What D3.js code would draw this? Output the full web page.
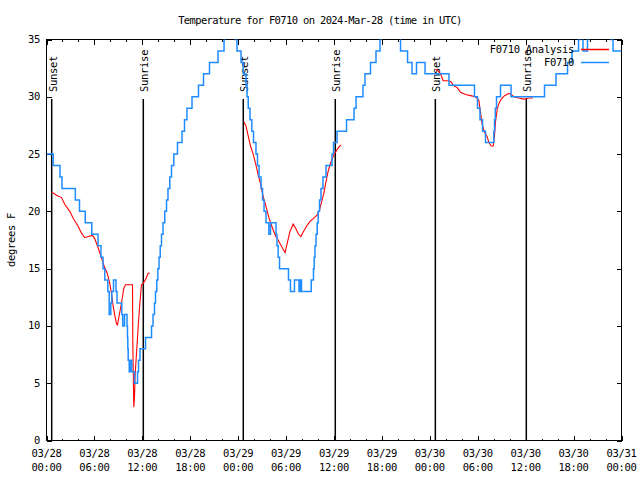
<!DOCTYPE html>
<html><head><meta charset="utf-8">
<script src="https://cdn.jsdelivr.net/npm/d3@7/dist/d3.min.js"></script>
<style>
body{margin:0;background:#fff}
svg{display:block}
text{font-family:"DejaVu Sans Mono",monospace;font-size:10.5px;letter-spacing:-0.3px;fill:#000}
</style>
</head><body>
<svg id="c" width="640" height="480"></svg>
<script>
// ---- data (hours since 03/28 00:00 UTC, degrees F) ----
const blueHours=[0,0.84,1.69,1.94,3.61,4.13,4.85,5.67,6.45,6.82,7.08,7.30,7.68,7.85,8.05,8.18,8.39,8.70,8.83,9.43,9.55,9.77,10.08,10.14,10.18,10.23,10.36,10.48,10.68,11.02,11.40,11.52,11.71,12.40,13.15,13.34,13.52,13.65,13.81,13.94,14.09,14.24,14.40,14.59,14.81,15.03,15.21,15.44,15.65,15.94,16.40,16.97,17.28,17.59,18.22,19.03,19.66,20.41,21.48,22.23,22.35,23.60,23.85,24.36,24.63,24.98,25.11,25.26,25.48,25.71,25.92,26.23,26.42,26.61,26.86,27.05,27.24,27.49,27.84,28.05,28.74,28.86,29.01,29.18,30.30,30.55,31.05,31.62,31.77,31.93,33.15,33.43,33.52,33.62,33.75,33.90,34.02,34.19,34.37,34.62,35.00,35.75,35.94,36.38,37.57,38.51,38.76,39.63,39.88,40.57,41.26,41.76,41.95,44.33,45.21,45.77,46.33,47.40,50.40,53.59,53.97,54.28,54.60,54.97,56.01,56.10,56.20,56.35,56.85,58.17,62.36,63.80,65.24,65.80,66.62,66.87,67.18,67.74,67.93,70.62,70.94,72.0];
const blueTemps=[25,24,23,22,21,20,19,18,17,16,15,14,13,11,12,13,14,13,12,11,10,11,10,9,8,7,6,7,6,5,6,7,8,9,10,11,12,13,14,15,16,17,18,19,20,21,22,23,24,25,26,27,28,29,30,31,32,33,34,35,36,35,34,33,32,31,30,29,28,27,26,25,24,23,22,21,20,19,18,19,18,17,16,15,14,13,14,13,14,13,14,15,16,17,18,19,20,21,22,23,24,25,26,27,28,29,30,31,32,33,34,35,36,34,33,32,33,32,31,30,29,28,27,26,27,28,29,30,31,30,31,32,33,34,35,36,34,35,36,35,34,34];

const redHours=[0.63,1.25,1.88,2.30,2.92,3.34,3.96,4.38,4.80,5.22,5.76,6.05,6.47,6.76,7.18,7.60,7.93,8.14,8.35,8.56,8.76,8.89,9.10,9.39,9.68,9.89,10.77,10.81,10.93,11.02,11.10,11.27,11.48,11.69,11.89,12.10,12.44,12.73,12.94,
  null,
  24.71,24.96,25.25,25.54,25.88,26.21,26.50,26.80,27.13,27.46,27.75,28.05,28.38,28.71,29.00,29.30,29.63,29.88,30.14,30.47,30.88,31.22,31.56,31.85,32.14,32.56,32.97,33.60,33.90,34.15,34.44,34.73,34.97,35.27,35.56,35.90,36.30,36.60,36.90,
  null,
  48.71,49.00,49.34,49.67,49.96,50.38,50.68,50.93,51.43,51.84,52.47,53.09,53.72,54.13,54.35,54.56,54.85,55.19,55.39,55.69,55.94,56.10,56.22,56.44,56.64,56.94,57.35,57.89,58.19,58.52,59.14,59.77,60.40,60.90];
const redTemps=[21.7,21.4,21.2,20.6,20.0,19.4,18.7,18.1,17.7,17.8,17.9,17.6,16.8,16.2,15.3,14.6,13.7,12.8,11.7,10.9,10.2,10.1,10.9,12.0,13.3,13.6,13.6,8.5,2.9,3.8,5.8,7.6,9.9,12.0,13.6,13.7,14.1,14.6,14.6,
  null,
  27.8,27.5,26.6,25.7,25.0,24.1,23.2,22.4,21.3,20.5,19.7,19.0,18.4,17.8,17.5,17.1,16.7,16.4,17.2,18.2,18.9,18.5,18.0,17.8,18.2,18.7,19.1,19.5,19.7,20.0,20.8,21.6,22.5,23.5,24.2,24.8,25.3,25.6,25.8,
  null,
  32.4,32.3,32.0,31.4,31.4,31.4,31.3,31.0,30.8,30.4,30.2,30.1,30.0,29.7,28.6,27.6,26.9,26.5,26.0,25.7,25.7,26.6,27.8,28.9,29.4,29.8,30.1,30.3,30.2,30.0,29.9,29.8,29.9,29.9];

const sunHours=[0.65,12.12,24.64,36.16,48.69,60.08];
const sunLabels=["Sunset","Sunrise","Sunset","Sunrise","Sunset","Sunrise"];

const xMajorHours=[0,6,12,18,24,30,36,42,48,54,60,66,72];
const xDateLabels=["03/28","03/28","03/28","03/28","03/29","03/29","03/29","03/29","03/30","03/30","03/30","03/30","03/31"];
const xTimeLabels=["00:00","06:00","12:00","18:00","00:00","06:00","12:00","18:00","00:00","06:00","12:00","18:00","00:00"];
const yTickValues=[0,5,10,15,20,25,30,35];

const titleText="Temperature for F0710 on 2024-Mar-28 (time in UTC)";
const yLabelText="degrees F";
const seriesNames=["F0710 Analysis","F0710"];
const seriesColors=["#ff0000","#1e8cff"];

// ---- drawing ----
const svg=d3.select("#c");
const L=46.5,R=621.5,T=39.5,B=440.5;
const x=d3.scaleLinear().domain([0,72]).range([L,R]);
const y=d3.scaleLinear().domain([0,35]).range([B,T]);

svg.append("defs").append("clipPath").attr("id","clip")
  .append("rect").attr("x",L).attr("y",T).attr("width",R-L).attr("height",B-T);

// title & y label
svg.append("text").attr("x",320).attr("y",23.5).attr("text-anchor","middle")
  .style("letter-spacing","-0.65px").text(titleText);
svg.append("text").attr("transform","translate(14.5,240) rotate(-90)").attr("text-anchor","middle").text(yLabelText);

// axes (ticks inward, mirrored)
const minor=d3.range(0,73,2).filter(h=>h%6!==0);
function noDomain(g){g.select(".domain").remove();g.selectAll("line").attr("stroke","#000").attr("shape-rendering","crispEdges");}
svg.append("g").attr("transform",`translate(0,${B})`).call(d3.axisBottom(x).tickValues(xMajorHours).tickSize(-5).tickFormat("")).call(noDomain);
svg.append("g").attr("transform",`translate(0,${B})`).call(d3.axisBottom(x).tickValues(minor).tickSize(-2).tickFormat("")).call(noDomain);
svg.append("g").attr("transform",`translate(0,${T})`).call(d3.axisTop(x).tickValues(xMajorHours).tickSize(-5).tickFormat("")).call(noDomain);
svg.append("g").attr("transform",`translate(0,${T})`).call(d3.axisTop(x).tickValues(minor).tickSize(-2).tickFormat("")).call(noDomain);
svg.append("g").attr("transform",`translate(${L},0)`).call(d3.axisLeft(y).tickValues(yTickValues).tickSize(-5).tickFormat("")).call(noDomain);
svg.append("g").attr("transform",`translate(${R},0)`).call(d3.axisRight(y).tickValues(yTickValues).tickSize(-5).tickFormat("")).call(noDomain);

// tick labels
svg.append("g").selectAll("text").data(yTickValues).join("text")
  .attr("x",40).attr("y",d=>y(d)+3.5).attr("text-anchor","end").text(d=>d);
const xl=svg.append("g").selectAll("g").data(xMajorHours).join("g");
xl.append("text").attr("x",d=>x(d)).attr("y",457).attr("text-anchor","middle").text((d,i)=>xDateLabels[i]);
xl.append("text").attr("x",d=>x(d)).attr("y",470.5).attr("text-anchor","middle").text((d,i)=>xTimeLabels[i]);

// frame
svg.append("rect").attr("x",L).attr("y",T).attr("width",R-L).attr("height",B-T)
  .attr("fill","none").attr("stroke","#000").attr("shape-rendering","crispEdges");

// sunrise / sunset lines
const sg=svg.append("g").selectAll("g").data(sunHours).join("g");
sg.append("line").attr("x1",d=>x(d)).attr("x2",d=>x(d)).attr("y1",99).attr("y2",B)
  .attr("stroke","#000").attr("stroke-width",1.5);
sg.append("text").attr("transform",d=>`translate(${x(d)+5},92) rotate(-90)`).text((d,i)=>sunLabels[i]);

// series
const plot=svg.append("g").attr("clip-path","url(#clip)");
const redData=redHours.map((h,i)=>[h,redTemps[i]]);
plot.append("path").datum(redData)
  .attr("d",d3.line().defined(d=>d[0]!==null&&d[1]!==null).x(d=>x(d[0])).y(d=>y(d[1])))
  .attr("fill","none").attr("stroke",seriesColors[0]).attr("stroke-width",1.1);
const blueData=blueHours.map((h,i)=>[h,blueTemps[i]]);
plot.append("path").datum(blueData)
  .attr("d",d3.line().curve(d3.curveStepAfter).x(d=>x(d[0])).y(d=>y(d[1])))
  .attr("fill","none").attr("stroke",seriesColors[1]).attr("stroke-width",1.5);

// legend
const leg=[[seriesNames[0],seriesColors[0],49.5],[seriesNames[1],seriesColors[1],62.5]];
leg.forEach(([name,col,ly])=>{
  svg.append("text").attr("x",574).attr("y",ly+3.5).attr("text-anchor","end").text(name);
  svg.append("line").attr("x1",581).attr("x2",609).attr("y1",ly).attr("y2",ly).attr("stroke",col).attr("stroke-width",1.5);
});
</script>
</body></html>
